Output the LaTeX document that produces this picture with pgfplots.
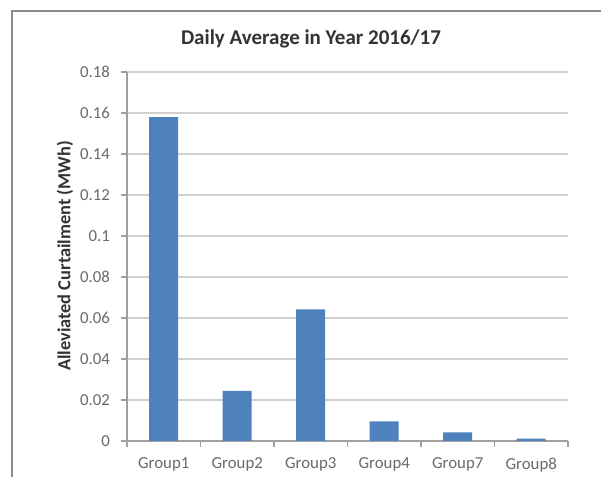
\documentclass[border=0pt]{standalone}
\usepackage{pgfplots}
\pgfplotsset{compat=1.18}
\usepackage{fontspec}
\setmainfont{Carlito}
\definecolor{barblue}{HTML}{4F81BD}
\definecolor{ticklab}{HTML}{6A6A6A}
\definecolor{titlecol}{HTML}{333333}
\definecolor{gridcol}{HTML}{D0D0D0}
\definecolor{axcol}{HTML}{A0A0A0}
\definecolor{framecol}{HTML}{8C8C8C}
\begin{document}
\begin{tikzpicture}
\useasboundingbox (0,0) rectangle (300.5pt,238.5pt);
\fill[white] (0,0) rectangle (300.5pt,238.5pt);
\draw[framecol, line width=0.9pt] (6pt,0pt) -- (6pt,233pt) -- (300.5pt,233pt);
\begin{axis}[
  at={(63.5pt,18pt)}, anchor=south west,
  scale only axis, width=220.5pt, height=184.5pt,
  xmin=-0.5, xmax=5.5, ymin=0, ymax=0.18,
  xtick={0,1,2,3,4,5},
  xticklabels={Group1,Group2,Group3,Group4,Group7,Group8},
  minor xtick={-0.5,0.5,1.5,2.5,3.5,4.5,5.5},
  major x tick style={draw=none},
  minor x tick style={axcol, line width=0.6pt},
  minor tick length=3pt,
  ytick={0,0.02,0.04,0.06,0.08,0.1,0.12,0.14,0.16,0.18},
  yticklabels={0,0.02,0.04,0.06,0.08,0.1,0.12,0.14,0.16,0.18},
  major y tick style={axcol, line width=0.6pt},
  major tick length=3pt,
  tick align=outside,
  axis x line*=bottom, axis y line*=left,
  axis line style={axcol, line width=0.6pt, -},
  ymajorgrids, grid style={gridcol, line width=0.6pt},
  ticklabel style={font=\fontsize{8.4pt}{10pt}\selectfont, text=ticklab},
  xticklabel style={yshift=-2pt},
  yticklabel style={xshift=-2pt},
  every axis plot/.append style={draw=none},
  clip=false,
]
\addplot[ybar, bar width=14.5pt, fill=barblue, draw=none] coordinates {
  (0,0.158) (1,0.0244) (2,0.0642) (3,0.0096) (4,0.0042) (5,0.0011)
};
\end{axis}
\node[font=\bfseries\fontsize{10.5pt}{12pt}\selectfont, text=titlecol] at (155.5pt,219pt) {Daily Average in Year 2016/17};
\node[font=\bfseries\fontsize{9.2pt}{11pt}\selectfont, text=titlecol, rotate=90] at (32.5pt,110.5pt) {Alleviated Curtailment (MWh)};
\end{tikzpicture}
\end{document}
